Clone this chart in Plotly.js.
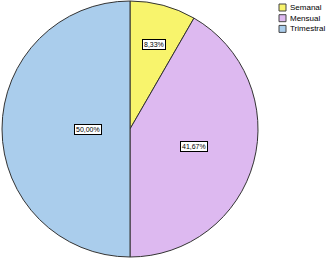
<!DOCTYPE html>
<html><head><meta charset="utf-8">
<script src="https://cdn.plot.ly/plotly-3.0.1.min.js"></script>
<style>html,body{margin:0;padding:0;background:#fff}#c{width:326px;height:269px}</style>
</head><body><div id="c"></div>
<script>
var categories = ["Semanal", "Mensual", "Trimestral"];
var values = [8.33, 41.67, 50.00];
var valueLabels = ["8,33%", "41,67%", "50,00%"];
var colors = ["#F8F46C", "#DDB9F0", "#AACDEC"];
var labelRadius = [0.73, 0.52, 0.44];

var W = 326, H = 269;
var cx = 130, cy = 129, R = 128;
var total = values.reduce(function(a,b){return a+b;},0);
var annotations = [];
var shapes = [];
var cum = 0;
var fnt = 'Arial, Liberation Sans, sans-serif';
for (var i = 0; i < values.length; i++) {
  var mid = (cum + values[i]/2) / total * 2 * Math.PI;
  cum += values[i];
  var px = cx + Math.sin(mid) * R * labelRadius[i];
  var py = cy - Math.cos(mid) * R * labelRadius[i];
  annotations.push({
    x: px / W, y: 1 - py / H, xref: 'paper', yref: 'paper',
    text: valueLabels[i], showarrow: false,
    font: {family: fnt, size: 7, color: '#000'},
    bgcolor: '#fff', bordercolor: '#000', borderwidth: 1, borderpad: 1
  });
  // legend
  var ly = 7.5 + i * 10.7;
  shapes.push({type: 'rect', xref: 'paper', yref: 'paper',
    x0: 279/W, x1: 286/W, y0: 1 - (ly + 3.5)/H, y1: 1 - (ly - 3.5)/H,
    fillcolor: colors[i], line: {color: '#444', width: 1}});
  annotations.push({x: 288/W, y: 1 - ly/H, xref: 'paper', yref: 'paper',
    xanchor: 'left', yanchor: 'middle', text: categories[i], showarrow: false,
    font: {family: fnt, size: 8, color: '#000'}});
}

var data = [{
  type: 'pie', labels: categories, values: values, sort: false,
  direction: 'clockwise', rotation: 0, textinfo: 'none', hoverinfo: 'none',
  marker: {colors: colors, line: {color: '#333', width: 1}},
  domain: {x: [(cx - R)/W, (cx + R)/W], y: [1 - (cy + R)/H, 1 - (cy - R)/H]}
}];
var layout = {
  width: W, height: H, margin: {l:0, r:0, t:0, b:0, autoexpand: false},
  paper_bgcolor: '#fff', plot_bgcolor: '#fff',
  showlegend: false,
  annotations: annotations, shapes: shapes
};
Plotly.newPlot('c', data, layout, {staticPlot: true, displayModeBar: false});
</script></body></html>
